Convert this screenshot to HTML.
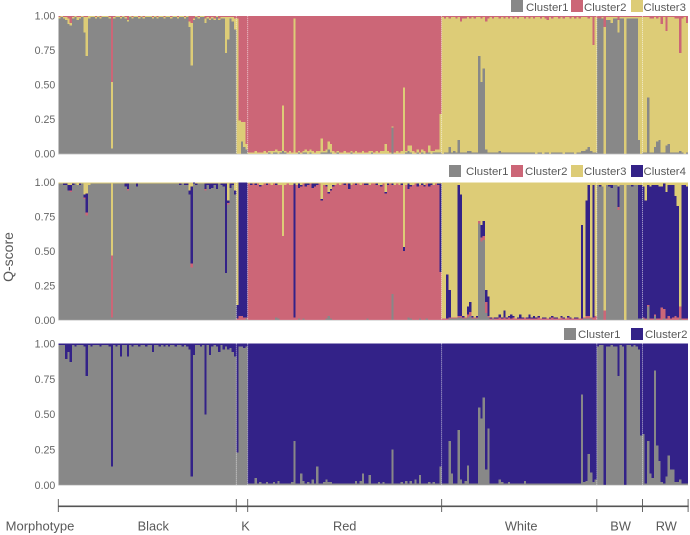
<!DOCTYPE html>
<html lang="en">
<head>
<meta charset="utf-8">
<title>Q-score structure plot</title>
<style>
html,body{margin:0;padding:0;background:#fff;}
svg{display:block;font-family:"Liberation Sans",Arial,sans-serif;}
.tick{font-size:10.6px;fill:#666;text-anchor:end;}
.leg{font-size:11.4px;fill:#595959;}
.grp{font-size:12.8px;fill:#595959;text-anchor:middle;}
</style>
</head>
<body>
<svg id="chart" width="690" height="535" viewBox="0 0 690 535" xmlns="http://www.w3.org/2000/svg">
  <g id="panels"></g>
  <text class="grp" transform="translate(13,257) rotate(-90)" style="font-size:14px">Q-score</text>

  <g>
    <rect x="511" y="0" width="12" height="12" fill="#888888"/>
    <text class="leg" x="526" y="11">Cluster1</text>
    <rect x="571" y="0" width="12" height="12" fill="#CC6677"/>
    <text class="leg" x="584" y="11">Cluster2</text>
    <rect x="631" y="0" width="12" height="12" fill="#DDCC77"/>
    <text class="leg" x="643.5" y="11">Cluster3</text>
  </g>
  <g>
    <rect x="449" y="165" width="12" height="12" fill="#888888"/>
    <text class="leg" x="466" y="175">Cluster1</text>
    <rect x="511" y="165" width="12" height="12" fill="#CC6677"/>
    <text class="leg" x="525" y="175">Cluster2</text>
    <rect x="571" y="165" width="12" height="12" fill="#DDCC77"/>
    <text class="leg" x="584" y="175">Cluster3</text>
    <rect x="631" y="165" width="12" height="12" fill="#332288"/>
    <text class="leg" x="643.5" y="175">Cluster4</text>
  </g>
  <g>
    <rect x="564" y="328" width="12" height="12" fill="#888888"/>
    <text class="leg" x="578" y="338">Cluster1</text>
    <rect x="631" y="328" width="12" height="12" fill="#332288"/>
    <text class="leg" x="645" y="338">Cluster2</text>
  </g>

  <g id="morph"></g>
  <text class="grp" x="40" y="530.5" style="font-size:13px">Morphotype</text>
</svg>

<script>
/* Morphotype groups: names and sample counts */
const groupNames = ["Black","K","Red","White","BW","RW"];
const groupSizes = [78,5,85,68,20,20];
const yTickValues = [0,0.25,0.5,0.75,1];
const yTickLabels = ["0.00","0.25","0.50","0.75","1.00"];

/* K=3: percent per sample. Stack bottom-up: cluster1, cluster3 (remainder), cluster2 */
const k3Cluster1 = [
98,99,98,97,94,93,98,99,97,98,
99,88,71,98,99,99,98,99,98,99,
99,99,98,4,98,99,99,98,99,98,
96,99,98,99,99,98,99,98,99,99,
99,98,99,98,99,99,98,99,99,98,
99,99,98,99,99,98,99,92,64,97,
99,98,99,99,95,98,97,98,97,99,
97,98,98,73,83,98,96,90,
0,0,9,5,3,
0,0,0,0,0,0,0,0,0,1,
0,1,1,0,1,2,1,0,0,0,
0,0,1,0,1,1,0,1,0,0,
0,0,1,1,1,3,1,0,0,1,
0,0,0,0,0,1,0,0,0,0,
0,0,0,0,1,0,0,0,0,0,
0,0,0,19,0,0,0,0,0,1,
2,1,0,0,1,0,1,0,1,1,
0,1,1,1,1,
0,1,1,5,1,2,1,10,1,1,
1,2,2,1,1,1,71,52,62,3,
1,1,1,1,1,2,1,1,1,1,
1,1,1,1,1,1,1,1,1,1,
1,0,1,1,0,1,1,0,1,1,
1,1,1,0,1,1,1,1,0,1,
1,2,2,3,5,2,1,1,
98,98,98,0,97,97,95,98,98,88,
98,98,0,98,98,98,98,98,10,0,
1,1,41,1,1,5,9,10,1,1,
6,7,1,1,1,1,2,1,0,1
];
const k3Cluster2 = [
1,0,1,1,2,5,1,0,1,1,
0,1,1,0,0,0,1,0,1,0,
0,0,1,48,1,0,0,1,0,1,
3,0,1,0,0,1,0,1,0,0,
0,1,0,1,0,0,1,0,0,1,
0,0,1,0,0,1,0,4,5,2,
0,1,0,0,2,1,2,1,2,0,
2,1,1,1,1,1,1,2,
2,76,77,77,93,
99,99,99,98,99,99,99,98,99,98,
98,98,97,98,98,65,98,99,98,99,
2,99,98,99,98,97,98,97,98,99,
98,98,89,98,97,91,93,98,99,98,
99,99,98,99,99,98,99,98,99,99,
98,99,99,98,98,99,98,99,98,98,
93,98,99,80,99,98,99,98,52,98,
94,94,98,99,97,99,97,98,99,94,
98,98,97,97,71,
1,2,1,2,1,1,2,1,4,2,
2,1,2,1,2,1,1,2,1,4,
2,1,2,1,1,2,1,2,1,2,
1,2,1,2,1,1,2,1,2,1,
2,1,1,2,1,2,3,1,2,1,
1,2,1,2,1,1,2,1,2,1,
2,1,1,1,2,1,21,1,
2,2,1,8,1,1,1,1,1,3,
1,1,1,1,1,1,1,1,1,1,
1,1,1,2,2,1,2,1,6,1,
11,1,1,1,2,2,27,2,1,5
];

/* K=4: percent per sample. Stack bottom-up: cluster1, cluster2, cluster4, cluster3 (remainder) */
const k4Cluster1 = [
99,99,98,98,94,93,98,99,98,98,
99,88,76,98,99,99,99,99,99,99,
99,99,99,2,99,99,99,99,99,97,
94,99,99,99,97,99,99,99,99,99,
99,99,99,99,99,99,99,99,99,99,
99,99,99,98,99,98,98,91,38,99,
98,99,99,99,94,98,95,96,98,95,
99,98,97,34,84,96,98,91,
0,0,0,0,1,
0,0,0,0,0,0,0,0,0,0,
0,0,2,1,0,0,0,0,0,0,
0,0,1,0,1,0,0,0,0,0,
0,0,0,0,1,3,1,0,0,0,
0,0,0,0,0,0,0,0,0,0,
0,0,1,0,0,0,0,0,0,0,
0,0,0,19,0,0,0,0,0,0,
2,1,0,0,0,1,0,0,1,0,
0,0,0,0,0,
0,0,0,1,1,1,1,2,2,1,
1,2,3,1,1,1,70,57,58,5,
2,0,1,0,0,0,0,0,0,0,
0,0,0,0,0,0,0,0,0,0,
0,0,0,0,0,0,0,0,0,0,
0,0,0,0,0,0,0,0,0,0,
0,0,1,1,1,1,0,0,
98,97,97,0,98,97,96,98,98,80,
98,98,0,98,98,97,98,98,1,1,
1,0,10,0,0,3,0,0,0,1,
0,0,0,0,0,0,1,0,0,0
];
const k4Cluster2 = [
0,0,0,0,0,1,0,0,0,0,
0,1,2,0,0,0,0,0,0,0,
0,0,0,45,0,0,0,0,0,0,
1,0,0,0,0,0,0,0,0,0,
0,0,0,0,0,0,0,0,0,0,
0,0,0,0,0,0,0,0,3,0,
0,0,0,0,1,0,0,0,0,0,
0,0,0,0,1,0,0,0,
1,3,3,2,1,
99,98,99,98,99,97,98,99,98,99,
98,99,96,97,98,61,98,99,98,98,
2,98,95,97,98,97,98,99,96,97,
98,99,87,98,96,89,93,97,98,99,
98,99,98,99,95,98,99,98,99,98,
99,98,97,98,99,99,98,98,97,99,
92,98,99,79,98,99,98,98,50,98,
93,96,98,99,97,97,98,97,98,97,
98,98,99,98,35,
1,1,1,1,1,1,1,1,1,1,
1,2,3,1,1,1,2,3,3,8,
1,1,1,1,1,2,1,2,1,2,
1,2,1,1,1,1,2,1,1,1,
1,1,2,1,1,1,1,1,2,1,
1,1,2,1,1,2,1,1,1,1,
1,1,1,2,2,1,2,3,
0,0,0,7,0,0,0,0,0,2,
0,0,0,0,0,0,0,0,0,0,
1,1,1,1,1,1,1,1,9,7,
1,3,1,2,3,2,9,1,1,1
];
const k4Cluster4 = [
0,0,1,1,4,4,1,0,0,1,
0,2,14,0,0,0,0,0,0,0,
0,0,0,0,0,0,0,0,0,2,
4,0,0,0,2,0,0,0,0,0,
0,0,0,0,0,0,0,0,0,0,
0,0,0,1,0,1,1,3,56,1,
1,0,0,0,4,1,4,3,1,4,
0,1,2,65,2,3,1,3,
10,97,97,98,98,
0,1,0,1,0,1,0,0,1,0,
0,0,1,0,0,0,0,0,0,0,
97,0,3,1,0,2,1,0,3,2,
1,0,1,0,1,1,1,1,0,0,
0,0,1,0,4,0,0,1,0,0,
0,1,1,0,0,0,1,0,1,0,
1,1,0,1,0,0,0,1,3,0,
4,1,0,0,2,0,1,1,0,2,
1,0,0,1,64,
0,0,32,20,0,0,0,95,88,1,
0,6,7,1,0,1,0,9,11,9,
14,1,0,1,1,2,1,5,1,1,
3,1,0,1,3,1,0,1,3,1,
2,1,1,0,1,1,0,1,1,1,
1,0,1,1,0,1,1,0,1,1,
0,68,0,84,95,0,96,0,
0,1,0,0,0,1,2,0,0,15,
0,0,0,0,0,1,0,0,97,97,
95,86,87,96,97,94,97,96,88,91,
92,95,97,96,87,81,0,97,97,96
];

/* K=2: percent per sample. Stack bottom-up: cluster1, cluster2 (remainder) */
const k2Cluster1 = [
99,99,99,89,94,87,99,98,99,99,
99,98,77,99,98,99,99,99,98,99,
99,99,98,13,99,98,99,91,99,99,
91,99,98,99,99,98,99,99,98,99,
99,94,99,99,98,99,98,99,98,99,
99,98,99,99,98,99,98,96,6,92,
99,99,98,99,50,99,92,98,99,98,
94,99,96,98,96,97,94,91,
23,98,98,97,98,
1,1,1,5,1,2,1,1,2,1,
1,2,1,3,1,1,1,1,1,2,
31,1,1,8,3,1,2,1,4,1,
13,1,1,2,4,2,2,1,1,1,
1,1,1,1,1,1,1,3,1,3,
8,1,1,7,1,1,1,2,1,2,
1,1,1,25,1,1,1,2,1,3,
1,3,1,4,1,7,1,1,1,2,
1,2,1,1,13,
1,1,1,31,8,1,1,39,4,1,
3,14,1,1,1,1,55,47,62,11,
40,1,1,1,1,4,2,1,1,2,
1,1,1,1,1,1,3,1,1,1,
1,1,1,1,1,1,1,1,1,1,
1,1,1,1,1,1,1,1,1,1,
1,64,2,3,22,9,2,4,
98,99,99,0,98,98,99,98,98,77,
99,98,0,99,99,98,99,98,96,35,
36,1,31,8,5,81,28,17,2,1,
6,21,11,11,2,2,4,1,1,1
];

const GREY = "#888888", PINK = "#CC6677", YELLOW = "#DDCC77", NAVY = "#332288";
const SVGNS = "http://www.w3.org/2000/svg";
const plotLeft = 58.3, plotRight = 688.1;
const totalSamples = groupSizes.reduce(function (a, b) { return a + b; }, 0);
const barWidth = (plotRight - plotLeft) / totalSamples;

function xScale(i) { return plotLeft + i * barWidth; }
function makeYScale(yZero, yOne) {
  return function (v) { return yZero + (yOne - yZero) * v; };
}
function svgEl(tag, attrs, parent) {
  const el = document.createElementNS(SVGNS, tag);
  Object.keys(attrs).forEach(function (k) { el.setAttribute(k, attrs[k]); });
  parent.appendChild(el);
  return el;
}

/* Each stack lists [colour, name, percent array or null for remainder] bottom-up */
const panelSpecs = [
  { name: "k3", yZero: 153.8, yOne: 15.8,
    stack: [[GREY,"cluster1",k3Cluster1],[YELLOW,"cluster3",null],[PINK,"cluster2",k3Cluster2]] },
  { name: "k4", yZero: 320, yOne: 182.3,
    stack: [[GREY,"cluster1",k4Cluster1],[PINK,"cluster2",k4Cluster2],[NAVY,"cluster4",k4Cluster4],[YELLOW,"cluster3",null]] },
  { name: "k2", yZero: 485, yOne: 343.6,
    stack: [[GREY,"cluster1",k2Cluster1],[NAVY,"cluster2",null]] }
];

function valueAt(stack, layer, i) {
  const arr = stack[layer][2];
  if (arr) return arr[i] || 0;
  let used = 0;
  stack.forEach(function (s) { if (s[2]) used += s[2][i] || 0; });
  return Math.max(0, 100 - used);
}

const panelsRoot = document.getElementById("panels");
panelSpecs.forEach(function (spec) {
  const y = makeYScale(spec.yZero, spec.yOne);
  const g = svgEl("g", {}, panelsRoot);
  
  

  for (let i = 0; i < totalSamples; i++) {
    let cum = 0;
    spec.stack.forEach(function (layer, li) {
      const v = valueAt(spec.stack, li, i);
      if (v <= 0) return;
      const top = y((cum + v) / 100), bottom = y(cum / 100);
      const r = svgEl("rect", {
        x: xScale(i).toFixed(2),
        y: top.toFixed(2),
        width: (barWidth + 0.05).toFixed(2),
        height: (bottom - top + 0.05).toFixed(2),
        fill: layer[0],
        "shape-rendering": "crispEdges"
      }, g);
      
      
      cum += v;
    });
  }

  /* pale frame lines at top and bottom of each panel */
  const base = svgEl("line", { x1: plotLeft, x2: plotRight, y1: y(0) + 0.4, y2: y(0) + 0.4, stroke: "#dcdcdc", "stroke-width": 1 }, g);
  
  

  /* dotted white separators between morphotypes */
  let edge = 0;
  groupSizes.forEach(function (n, gi) {
    edge += n;
    if (gi === groupSizes.length - 1) return;
    const sep = svgEl("line", {
      x1: xScale(edge).toFixed(2), x2: xScale(edge).toFixed(2),
      y1: y(1), y2: y(0),
      stroke: "#ffffff", "stroke-width": 0.8, "stroke-dasharray": "1 1", opacity: 0.85
    }, g);
    
    
  });

  yTickValues.forEach(function (v, ti) {
    const t = svgEl("text", { x: 55.3, y: (y(v) + 3.8).toFixed(2), "class": "tick" }, g);
    t.textContent = yTickLabels[ti];
    
    
  });
});

/* Morphotype bracket axis */
const morph = document.getElementById("morph");
const axisY = 506.3;
const axisLine = svgEl("line", { x1: plotLeft, x2: plotRight + 0.6, y1: axisY, y2: axisY, stroke: "#555", "stroke-width": 1.6 }, morph);


const groupLabelOffsets = [6,3.5,0,2,1,1];
let running = 0;
function drawTick(idx) {
  const t = svgEl("line", { x1: xScale(idx).toFixed(2), x2: xScale(idx).toFixed(2), y1: 499, y2: 512, stroke: "#555", "stroke-width": 0.9 }, morph);
  
  
}
drawTick(0);
groupSizes.forEach(function (n, gi) {
  const mid = xScale(running + n / 2);
  running += n;
  drawTick(running);
  const lab = svgEl("text", { x: (mid + groupLabelOffsets[gi]).toFixed(1), y: 530.5, "class": "grp" }, morph);
  lab.textContent = groupNames[gi];
  
  
});
</script>
</body>
</html>
